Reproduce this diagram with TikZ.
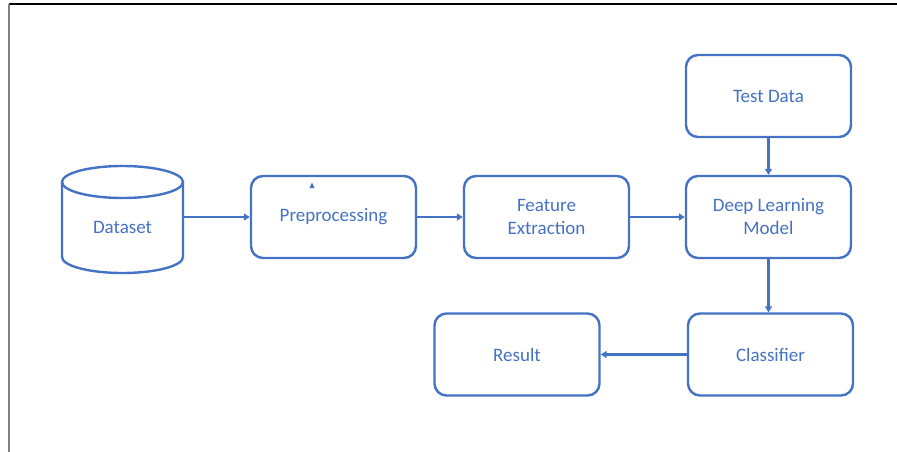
\documentclass[tikz,border=0pt]{standalone}
\usepackage{fontspec}
\setmainfont{Carlito}
\usetikzlibrary{arrows.meta}
\definecolor{ob}{HTML}{4472C4}
\begin{document}
\begin{tikzpicture}[x=1pt,y=-1pt,
  lbl/.style={text=ob,font=\fontsize{19}{23}\selectfont,align=center},
  box/.style={lbl,draw=ob,line width=2.4pt,rounded corners=12pt,minimum width=165pt,minimum height=82pt,inner sep=0pt},
  conn/.style={draw=ob,line width=2.4pt,-{Triangle[length=6pt,width=7pt]}},
  cylline/.style={draw=ob,line width=2.4pt}]
\useasboundingbox (0,0) rectangle (897,452);
\draw[black,line width=1.5pt] (9,4) -- (897,4);
\draw[gray,line width=1.5pt] (9,4) -- (9,452);
% dataset cylinder
\node[minimum width=121pt,minimum height=107pt,inner sep=0pt] (ds) at (122.5,219) {};
\draw[cylline] (122.5,182) ellipse [x radius=60.5pt, y radius=16pt];
\draw[cylline] (62,182) -- (62,257) arc[start angle=180, end angle=360, x radius=60.5pt, y radius=16pt] -- (183,182);
\node[lbl] (dst) at (122.5,227) {Dataset};
\node[box] (pre) at (333.5,217) {Preprocessing};
\node[box] (fe) at (546.5,217) {Feature\\Extraction};
\node[box] (dl) at (768.5,217) {Deep Learning\\Model};
\node[box] (td) at (768.5,96) {Test Data};
\node[box] (cl) at (770.5,354.5) {Classifier};
\node[box] (res) at (517,354.5) {Result};
\draw[conn] (ds.east |- pre) -- (pre.west);
\draw[conn] (pre.east) -- (fe.west);
\draw[conn] (fe.east) -- (dl.west);
\draw[conn] (td.south) -- (dl.north);
\draw[conn] (dl.south) -- (dl.south |- cl.north);
\draw[conn] (cl.west) -- (res.east);
\coordinate (tri) at (312,185.5);
\fill[ob] ([shift={(-2.5,2.5)}]tri) -- ([shift={(0,-3)}]tri) -- ([shift={(2.5,2.5)}]tri) -- cycle;
\end{tikzpicture}
\end{document}
